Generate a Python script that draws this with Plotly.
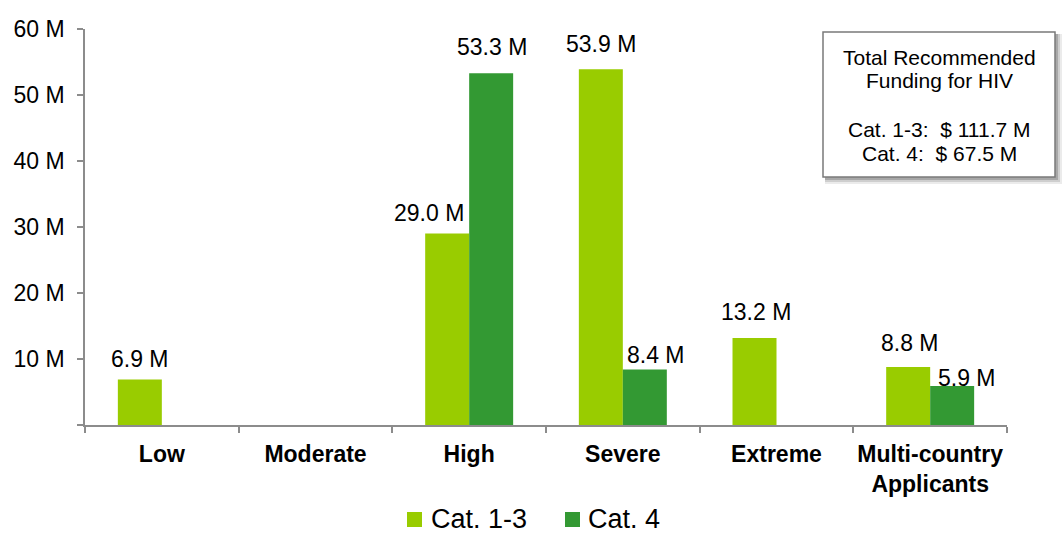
import plotly.graph_objects as go

# Funding by income / risk category (millions of US$)
categories = ["Low", "Moderate", "High", "Severe", "Extreme", "Multi-country<br>Applicants"]
cat13_values = [6.9, None, 29.0, 53.9, 13.2, 8.8]
cat4_values = [None, None, 53.3, 8.4, None, 5.9]
series_names = ["Cat. 1-3", "Cat. 4"]
y_tick_vals = [0, 10, 20, 30, 40, 50, 60]
y_tick_text = ["", "10 M", "20 M", "30 M", "40 M", "50 M", "60 M"]
box_lines = ["Total Recommended", "Funding for HIV", "", "Cat. 1-3:  $ 111.7 M", "Cat. 4:  $ 67.5 M"]

# Label placement tweaks (pixels): horizontal / vertical offset from bar top centre
cat13_label_dx = [0, 0, -18, 0, 1, 2]
cat13_label_dy = [20, 0, 21, 25, 26, 24]
cat4_label_dx = [0, 0, 1, 11, 0, 15]
cat4_label_dy = [0, 0, 26, 15, 0, 8]

LIGHT = "#99CC00"
DARK = "#339933"
AXIS = "#8c8c8c"
FONT = "Liberation Sans, Arial, sans-serif"
HALF_BAR = 22  # half of a single bar's pixel width

# plot area in pixels, used to place the key and the summary box
PL, PR, PT, PB = 85, 1007, 29, 425


def px_x(p):
    return (p - PL) / (PR - PL)


def px_y(p):
    return (PB - p) / (PB - PT)


fig = go.Figure()
fig.add_trace(go.Bar(x=categories, y=cat13_values, name=series_names[0],
                     marker=dict(color=LIGHT, line=dict(width=0))))
fig.add_trace(go.Bar(x=categories, y=cat4_values, name=series_names[1],
                     marker=dict(color=DARK, line=dict(width=0))))

annotations = []
for vals, sign, dxs, dys in ((cat13_values, -1, cat13_label_dx, cat13_label_dy),
                             (cat4_values, 1, cat4_label_dx, cat4_label_dy)):
    for cat, v, dx, dy in zip(categories, vals, dxs, dys):
        if v is None:
            continue
        annotations.append(dict(
            x=cat, y=v, xref="x", yref="y", text=f"{v:.1f} M", showarrow=False,
            xanchor="center", yanchor="middle",
            xshift=sign * HALF_BAR + dx, yshift=dy,
            font=dict(family=FONT, size=23, color="#000000")))

# Summary box text
box_line_y = [57, 81, 105, 129, 153]
for txt, py in zip(box_lines, box_line_y):
    if not txt:
        continue
    annotations.append(dict(
        x=px_x(939), y=px_y(py), xref="paper", yref="paper",
        text=txt, showarrow=False, xanchor="center", yanchor="middle",
        font=dict(family=FONT, size=21, color="#000000")))

shapes = []
# soft drop shadow for the summary box
bx0, bx1 = px_x(823), px_x(1055)
by0, by1 = px_y(177), px_y(32)
ux = 1 / (PR - PL)
uy = 1 / (PB - PT)
for off, op in ((7, 0.08), (5, 0.12), (3, 0.18)):
    shapes.append(dict(type="rect", xref="paper", yref="paper",
                       x0=bx0 + 2 * ux, x1=bx1 + off * ux,
                       y0=by0 - off * uy, y1=by1 - 2 * uy,
                       fillcolor="rgba(0,0,0,%.2f)" % op, line=dict(width=0), layer="above"))
shapes.append(dict(type="rect", xref="paper", yref="paper",
                   x0=bx0, x1=bx1, y0=by0, y1=by1,
                   fillcolor="#ffffff", line=dict(color="#7a7a7a", width=1.5), layer="above"))

# Series key below the axis
KEY_Y = 519
key_items = [(series_names[0], LIGHT, 407, 429), (series_names[1], DARK, 565, 586)]
for name, color, sq_left, text_left in key_items:
    shapes.append(dict(type="rect", xref="paper", yref="paper",
                       x0=px_x(sq_left), x1=px_x(sq_left + 15),
                       y0=px_y(KEY_Y + 8), y1=px_y(KEY_Y - 7),
                       fillcolor=color, line=dict(width=0)))
    annotations.append(dict(
        x=px_x(text_left), y=px_y(KEY_Y), xref="paper", yref="paper",
        text=name, showarrow=False, xanchor="left", yanchor="middle",
        font=dict(family=FONT, size=27, color="#000000")))

fig.update_layout(
    width=1064, height=539,
    margin=dict(l=PL, r=1064 - PR, t=PT, b=539 - PB, autoexpand=False),
    paper_bgcolor="#ffffff", plot_bgcolor="#ffffff",
    barmode="group", bargap=0.4275, bargroupgap=0,
    font=dict(family=FONT, color="#000000"),
    showlegend=False,
    xaxis=dict(
        automargin=False, tickangle=0,
        showline=True, linecolor=AXIS, linewidth=1.5,
        ticks="outside", tickson="boundaries", ticklen=6, tickcolor=AXIS, tickwidth=1.5,
        tickfont=dict(family=FONT, size=23, color="#000000", weight="bold"),
        ticklabelstandoff=8, showgrid=False, zeroline=False,
    ),
    yaxis=dict(
        automargin=False,
        range=[0, 60], tickvals=y_tick_vals, ticktext=y_tick_text,
        showline=True, linecolor=AXIS, linewidth=1.5,
        ticks="outside", ticklen=6, tickcolor=AXIS, tickwidth=1.5,
        tickfont=dict(family=FONT, size=23, color="#000000"),
        ticklabelstandoff=8, showgrid=False, zeroline=False,
    ),
    annotations=annotations,
    shapes=shapes,
)

fig.write_html("out.html")
